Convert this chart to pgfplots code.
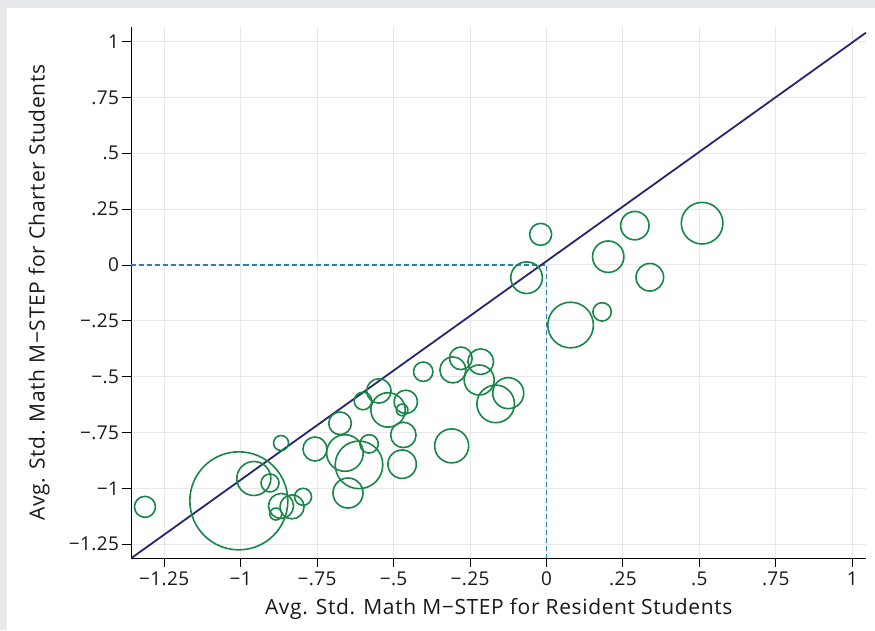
\documentclass[border=0pt]{standalone}
\usepackage{pgfplots}
\pgfplotsset{compat=1.18}
\usepackage{pgfplotstable}
\usepackage{fontspec}
\setmainfont{Open Sans}
\newfontfamily\labfont[LetterSpace=3]{Open Sans}
\newfontfamily\tickfont[LetterSpace=2]{Open Sans}
\definecolor{bggray}{RGB}{232,233,236}
\definecolor{gridgray}{RGB}{232,232,232}
\definecolor{bubblegreen}{RGB}{24,134,70}
\definecolor{navyline}{RGB}{38,38,112}
\definecolor{dashblue}{RGB}{47,128,184}
\definecolor{txt}{RGB}{25,25,25}

\pgfplotstableread{
x y r
-1.313 -1.083 10.5
-1.006 -1.056 49
-0.957 -0.956 17
-0.904 -0.976 9
-0.868 -0.797 7.5
-0.868 -1.079 12.5
-0.832 -1.083 12
-0.796 -1.038 8.5
-0.885 -1.115 6
-0.757 -0.824 12
-0.675 -0.709 11.3
-0.659 -0.842 18.3
-0.613 -0.895 23.8
-0.580 -0.801 9.2
-0.649 -1.021 15
-0.600 -0.609 8.8
-0.548 -0.564 12.2
-0.518 -0.649 17.2
-0.460 -0.613 11.7
-0.472 -0.649 5.8
-0.468 -0.761 12.7
-0.472 -0.892 14.2
-0.403 -0.478 9.7
-0.306 -0.470 13
-0.280 -0.418 11.3
-0.215 -0.433 12.8
-0.220 -0.515 15
-0.125 -0.574 15.5
-0.166 -0.622 18.8
-0.310 -0.810 17
-0.019 0.137 11
-0.065 -0.057 15.8
0.079 -0.269 22.8
0.182 -0.210 9.2
0.202 0.037 15.7
0.289 0.176 14.2
0.338 -0.055 13.8
0.509 0.187 20.8
}\bubbles

\begin{document}
\begin{tikzpicture}
\path[use as bounding box, fill=bggray] (-131.5pt,-72pt) rectangle (743.5pt,558pt);
\fill[white] (-124.5pt,-72pt) rectangle (743.5pt,550pt);
\begin{axis}[
  scale only axis,
  width=734.5pt, height=530.7pt,
  xmin=-1.357, xmax=1.045,
  ymin=-1.312, ymax=1.064,
  axis lines*=left,
  axis line style={black, line width=1pt},
  clip=false,
  tick align=outside,
  major tick length=9pt,
  tick style={black, line width=0.9pt},
  grid=major,
  grid style={gridgray, line width=1pt},
  xtick={-1.25,-1,-0.75,-0.5,-0.25,0,0.25,0.5,0.75,1},
  xticklabels={−1.25,−1,−.75,−.5,−.25,0,.25,.5,.75,1},
  ytick={-1.25,-1,-0.75,-0.5,-0.25,0,0.25,0.5,0.75,1},
  yticklabels={−1.25,−1,−.75,−.5,−.25,0,.25,.5,.75,1},
  ticklabel style={font=\tickfont\fontsize{19}{21}\selectfont, text=txt},
  xticklabel style={yshift=-1pt},
  xlabel={Avg. Std. Math M−STEP for Resident Students},
  ylabel={Avg. Std. Math M−STEP for Charter Students},
  every axis x label/.style={at={(axis description cs:0.5,-0.0961)}, anchor=center, font=\labfont\fontsize{21}{24}\selectfont, text=txt},
  every axis y label/.style={at={(axis description cs:-0.1259,0.5)}, rotate=90, anchor=center, font=\labfont\fontsize{21}{24}\selectfont, text=txt},
]
\addplot[dashblue, line width=1.5pt, dash pattern=on 5pt off 3pt] coordinates {(-1.357,0) (0,0) (0,-1.312)};
\addplot[navyline, line width=1.8pt] coordinates {(-1.357,-1.312) (1.045,1.040)};
\addplot[scatter, only marks, mark=o, line width=1.6pt,
  scatter/use mapped color={draw=bubblegreen, fill=none},
  visualization depends on={\thisrow{r}\as\rad},
  scatter/@pre marker code/.append style={/tikz/mark size=\rad}]
  table[x=x, y=y] {\bubbles};
\end{axis}
\end{tikzpicture}
\end{document}
